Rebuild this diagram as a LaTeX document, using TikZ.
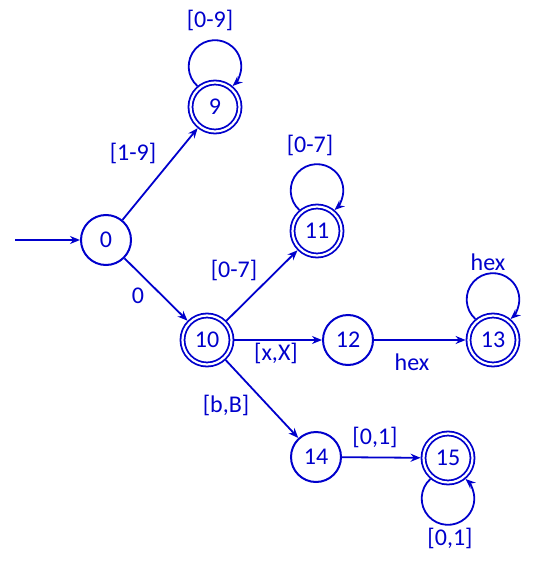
\documentclass[tikz,border=0pt]{standalone}
\usepackage{fontspec}
\setmainfont{Carlito}
\usetikzlibrary{arrows.meta}
\definecolor{dfablue}{RGB}{0,0,204}
\tikzset{
  state/.style={circle, draw=dfablue, line width=2pt, minimum size=50pt, inner sep=0pt, text=dfablue},
  final/.style={state, double, line width=1.8pt, double distance=2.2pt, minimum size=49pt, outer sep=2.9pt},
  trans/.style={draw=dfablue, line width=1.8pt, -{Stealth[length=10pt,width=8pt]}},
  lbl/.style={text=dfablue}
}
\begin{document}
\begin{tikzpicture}[x=1pt, y=-1pt, font=\fontsize{24}{28}\selectfont]
    \useasboundingbox (0,0) rectangle (550,583);

    % States of the automaton
    \node[state] (s0) at (106,240) {0};
    \node[final] (s9) at (215,107) {9};
    \node[final] (s10) at (207,340) {10};
    \node[final] (s11) at (317,231) {11};
    \node[state] (s12) at (348,340) {12};
    \node[final] (s13) at (493,340) {13};
    \node[state] (s14) at (316,457) {14};
    \node[final] (s15) at (448,458) {15};

    % Start arrow
    \coordinate (start) at (15,240);
    \draw[trans] (start) -- (s0);

    % Transitions
    \draw[trans] (s0) -- (s9);
    \draw[trans] (s0) -- (s10);
    \draw[trans] (s10) -- (s11);
    \draw[trans] (s10) -- (s12);
    \draw[trans] (s12) -- (s13);
    \draw[trans] (s10) -- (s14);
    \draw[trans] (s14) -- (s15);

    % Self loops (round arcs on top of the state)
    \draw[trans] (s9.130) arc[start angle=132, end angle=408, radius=26.3];
    \draw[trans] (s11.130) arc[start angle=132, end angle=408, radius=26.3];
    \draw[trans] (s13.130) arc[start angle=132, end angle=408, radius=26.3];
    \draw[trans] (s15.230) arc[start angle=228, end angle=-48, radius=26.3];

    % Transition labels
    \node[lbl] (l09) at (210,20) {[0-9]};
    \node[lbl] (l19) at (133,153) {[1-9]};
    \node[lbl] (lzero) at (138,296) {0};
    \node[lbl] (l07a) at (310,145) {[0-7]};
    \node[lbl] (l07b) at (234,270) {[0-7]};
    \node[lbl] (lxX) at (276,353) {[x,X]};
    \node[lbl] (lhexa) at (412,362) {hex};
    \node[lbl] (lhexb) at (488,262) {hex};
    \node[lbl] (lbB) at (226,405) {[b,B]};
    \node[lbl] (l01a) at (375,437) {[0,1]};
    \node[lbl] (l01b) at (450,538) {[0,1]};
\end{tikzpicture}
\end{document}
